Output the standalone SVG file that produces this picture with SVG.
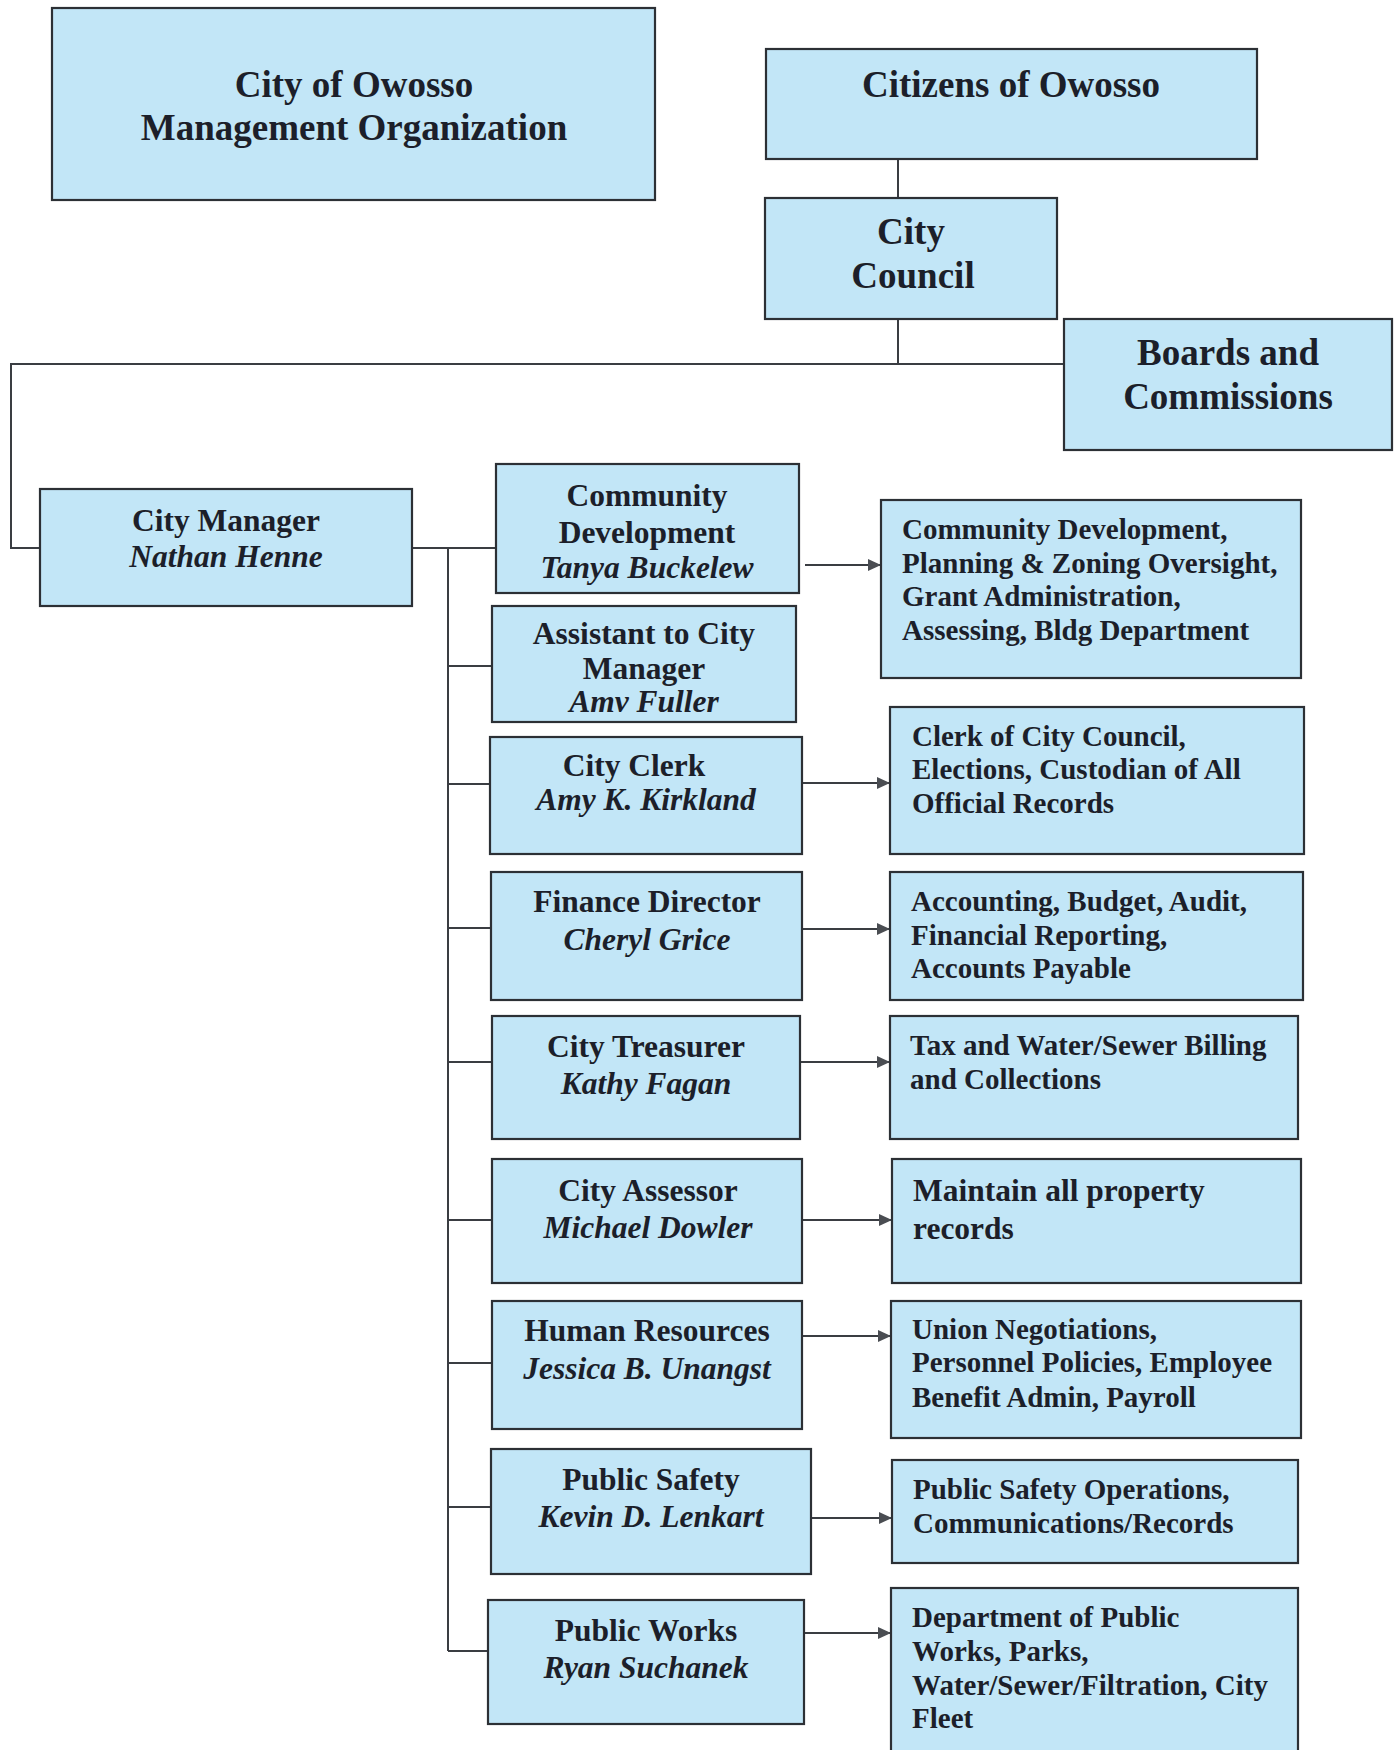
<svg xmlns="http://www.w3.org/2000/svg" width="1400" height="1750" viewBox="0 0 1400 1750">
<style>
.box{fill:#c2e6f7;stroke:#2c3035;stroke-width:2.2}
.t{font-family:"Liberation Serif","Times New Roman",serif;font-weight:bold;fill:#1c1f2a}
.c{text-anchor:middle}
.h{font-size:37px}
.d{font-size:31.5px}
.r{font-size:29px}
.r2{font-size:31.5px}
.i{font-style:italic}
.ln{stroke:#3a3d42;stroke-width:2;fill:none}
.ar{stroke:#3a3d42;stroke-width:2;fill:none;marker-end:url(#ah)}
</style>
<defs>
<marker id="ah" viewBox="0 0 10 10" refX="10" refY="5" markerWidth="13" markerHeight="12" markerUnits="userSpaceOnUse" orient="auto" preserveAspectRatio="none">
<path d="M0,0 L10,5 L0,10 z" fill="#4a4d52"/>
</marker>
</defs>
<rect width="1400" height="1750" fill="#ffffff"/>

<g id="connectors">
<line class="ln" x1="898" y1="159" x2="898" y2="198"/>
<line class="ln" x1="898" y1="319" x2="898" y2="364"/>
<polyline class="ln" points="1064,364 11,364 11,548 40,548"/>
<line class="ln" x1="412" y1="548" x2="496" y2="548"/>
<line class="ln" x1="448" y1="548" x2="448" y2="1651"/>
<line class="ln" x1="448" y1="666" x2="492" y2="666"/>
<line class="ln" x1="448" y1="784" x2="490" y2="784"/>
<line class="ln" x1="448" y1="928" x2="491" y2="928"/>
<line class="ln" x1="448" y1="1062" x2="492" y2="1062"/>
<line class="ln" x1="448" y1="1220" x2="492" y2="1220"/>
<line class="ln" x1="448" y1="1363" x2="492" y2="1363"/>
<line class="ln" x1="448" y1="1507" x2="491" y2="1507"/>
<line class="ln" x1="448" y1="1651" x2="488" y2="1651"/>
<line class="ar" x1="805" y1="565" x2="881" y2="565"/>
<line class="ar" x1="802" y1="783" x2="890" y2="783"/>
<line class="ar" x1="802" y1="929" x2="890" y2="929"/>
<line class="ar" x1="800" y1="1062" x2="890" y2="1062"/>
<line class="ar" x1="802" y1="1220" x2="892" y2="1220"/>
<line class="ar" x1="802" y1="1336" x2="891" y2="1336"/>
<line class="ar" x1="811" y1="1518" x2="892" y2="1518"/>
<line class="ar" x1="804" y1="1633" x2="891" y2="1633"/>
</g>

<g id="title">
<rect class="box" x="52" y="8" width="603" height="192"/>
<text class="t c h" x="354" y="97">City of Owosso</text>
<text class="t c h" x="354" y="140">Management Organization</text>
</g>

<g id="citizens">
<rect class="box" x="766" y="49" width="491" height="110"/>
<text class="t c h" x="1011" y="97">Citizens of Owosso</text>
</g>

<g id="council">
<rect class="box" x="765" y="198" width="292" height="121"/>
<text class="t c h" x="911" y="244">City</text>
<text class="t c h" x="913" y="288">Council</text>
</g>

<g id="boards">
<rect class="box" x="1064" y="319" width="328" height="131"/>
<text class="t c h" x="1228" y="365">Boards and</text>
<text class="t c h" x="1228" y="409">Commissions</text>
</g>

<g id="manager">
<rect class="box" x="40" y="489" width="372" height="117"/>
<text class="t c d" x="226" y="531">City Manager</text>
<text class="t c d i" x="226" y="567">Nathan Henne</text>
</g>

<g id="commdev">
<rect class="box" x="496" y="464" width="303" height="129"/>
<text class="t c d" x="647" y="506">Community</text>
<text class="t c d" x="647" y="543">Development</text>
<text class="t c d i" x="647" y="578">Tanya Buckelew</text>
</g>

<g id="assistant">
<rect class="box" x="492" y="606" width="304" height="116"/>
<text class="t c d" x="644" y="644">Assistant to City</text>
<text class="t c d" x="644" y="679">Manager</text>
<text class="t c d i" x="644" y="712">Amv Fuller</text>
</g>

<g id="clerk">
<rect class="box" x="490" y="737" width="312" height="117"/>
<text class="t c d" x="634" y="776">City Clerk</text>
<text class="t c d i" x="646" y="810">Amy K. Kirkland</text>
</g>

<g id="finance">
<rect class="box" x="491" y="872" width="311" height="128"/>
<text class="t c d" x="647" y="912">Finance Director</text>
<text class="t c d i" x="647" y="950">Cheryl Grice</text>
</g>

<g id="treasurer">
<rect class="box" x="492" y="1016" width="308" height="123"/>
<text class="t c d" x="646" y="1057">City Treasurer</text>
<text class="t c d i" x="646" y="1094">Kathy Fagan</text>
</g>

<g id="assessor">
<rect class="box" x="492" y="1159" width="310" height="124"/>
<text class="t c d" x="648" y="1201">City Assessor</text>
<text class="t c d i" x="648" y="1238">Michael Dowler</text>
</g>

<g id="hr">
<rect class="box" x="492" y="1301" width="310" height="128"/>
<text class="t c d" x="647" y="1341">Human Resources</text>
<text class="t c d i" x="647" y="1379">Jessica B. Unangst</text>
</g>

<g id="safety">
<rect class="box" x="491" y="1449" width="320" height="125"/>
<text class="t c d" x="651" y="1490">Public Safety</text>
<text class="t c d i" x="651" y="1527">Kevin D. Lenkart</text>
</g>

<g id="works">
<rect class="box" x="488" y="1600" width="316" height="124"/>
<text class="t c d" x="646" y="1641">Public Works</text>
<text class="t c d i" x="646" y="1678">Ryan Suchanek</text>
</g>

<g id="r-commdev">
<rect class="box" x="881" y="500" width="420" height="178"/>
<text class="t r" x="902" y="539">Community Development,</text>
<text class="t r" x="902" y="573">Planning &amp; Zoning Oversight,</text>
<text class="t r" x="902" y="606">Grant Administration,</text>
<text class="t r" x="902" y="640">Assessing, Bldg Department</text>
</g>

<g id="r-clerk">
<rect class="box" x="890" y="707" width="414" height="147"/>
<text class="t r" x="912" y="746">Clerk of City Council,</text>
<text class="t r" x="912" y="779">Elections, Custodian of All</text>
<text class="t r" x="912" y="813">Official Records</text>
</g>

<g id="r-finance">
<rect class="box" x="890" y="872" width="413" height="128"/>
<text class="t r" x="911" y="911">Accounting, Budget, Audit,</text>
<text class="t r" x="911" y="945">Financial Reporting,</text>
<text class="t r" x="911" y="978">Accounts Payable</text>
</g>

<g id="r-treasurer">
<rect class="box" x="890" y="1016" width="408" height="123"/>
<text class="t r" x="910" y="1055">Tax and Water/Sewer Billing</text>
<text class="t r" x="910" y="1089">and Collections</text>
</g>

<g id="r-assessor">
<rect class="box" x="892" y="1159" width="409" height="124"/>
<text class="t r2" x="913" y="1201">Maintain all property</text>
<text class="t r2" x="913" y="1239">records</text>
</g>

<g id="r-hr">
<rect class="box" x="891" y="1301" width="410" height="137"/>
<text class="t r" x="912" y="1339">Union Negotiations,</text>
<text class="t r" x="912" y="1372">Personnel Policies, Employee</text>
<text class="t r" x="912" y="1407">Benefit Admin, Payroll</text>
</g>

<g id="r-safety">
<rect class="box" x="892" y="1460" width="406" height="103"/>
<text class="t r" x="913" y="1499">Public Safety Operations,</text>
<text class="t r" x="913" y="1533">Communications/Records</text>
</g>

<g id="r-works">
<rect class="box" x="891" y="1588" width="407" height="175"/>
<text class="t r" x="912" y="1627">Department of Public</text>
<text class="t r" x="912" y="1661">Works, Parks,</text>
<text class="t r" x="912" y="1695">Water/Sewer/Filtration, City</text>
<text class="t r" x="912" y="1728">Fleet</text>
</g>
</svg>
